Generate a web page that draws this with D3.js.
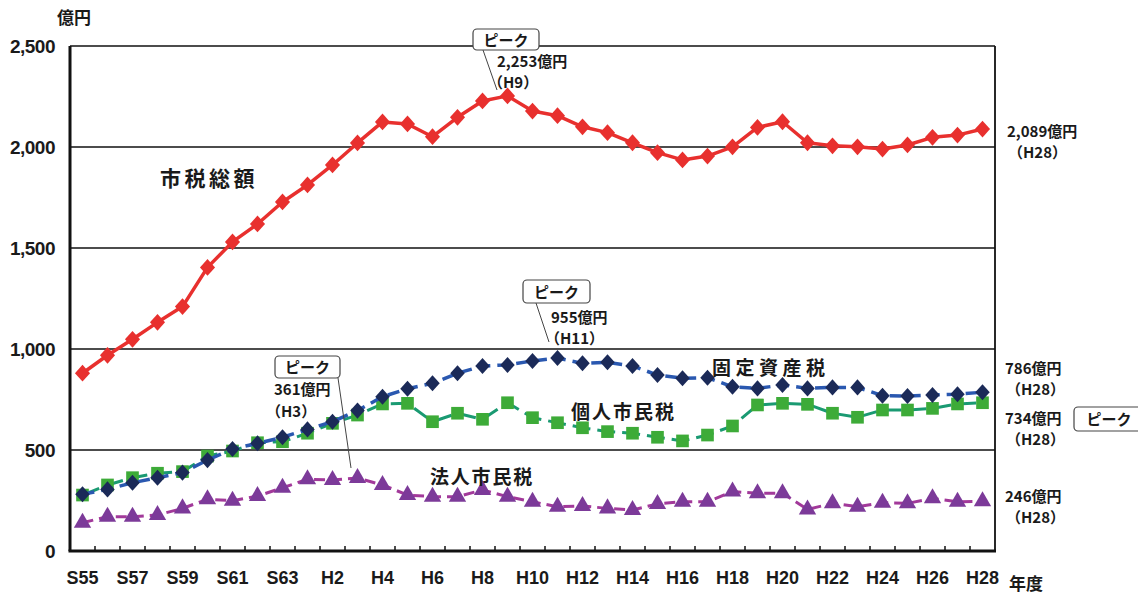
<!DOCTYPE html>
<html><head><meta charset="utf-8">
<script src="https://cdn.jsdelivr.net/npm/d3@7"></script>
<style>
body{margin:0;background:#fff;}
svg{display:block;}
</style></head>
<body><svg id="c" width="1138" height="597"></svg>
<script>
const categories = ["S55","S56","S57","S58","S59","S60","S61","S62","S63","H1","H2","H3","H4","H5","H6","H7","H8","H9","H10","H11","H12","H13","H14","H15","H16","H17","H18","H19","H20","H21","H22","H23","H24","H25","H26","H27","H28"];
const totalTax = [880,969,1048,1132,1210,1404,1530,1619,1728,1812,1911,2020,2124,2114,2051,2147,2228,2253,2178,2155,2100,2071,2021,1972,1936,1955,2001,2097,2125,2021,2006,2001,1990,2010,2048,2059,2089];
const propertyTax = [281,305,338,363,388,450,505,533,563,602,640,695,764,803,830,880,916,921,941,955,929,934,916,871,855,858,813,805,822,805,810,810,769,767,772,776,786];
const individualTax = [277,327,363,385,393,470,495,536,541,583,632,673,728,731,640,682,652,734,660,635,610,591,583,563,545,574,619,723,731,726,682,662,698,698,706,728,734];
const corporateTax = [140,170,170,178,211,256,249,272,313,355,351,361,327,277,269,269,302,269,244,219,223,211,203,233,244,244,294,286,286,206,236,219,239,236,261,244,246];
const yTicks = [0,500,1000,1500,2000,2500];

(function(){
const svg = d3.select("#c");
const L = 70, R = 995, T = 46, B = 551;
const x = d3.scaleBand().domain(categories).range([L, R]);
const y = d3.scaleLinear().domain([0, 2500]).range([B, T]);
const cx = d => x(d) + x.bandwidth() / 2;

const jp = "'Noto Sans CJK JP','Noto Sans',sans-serif";
const narrow = "'Liberation Sans Narrow','Arial Narrow','Liberation Sans',Arial,sans-serif";

// gridlines
svg.append("g").selectAll("line").data(yTicks.filter(v => v > 0)).join("line")
  .attr("x1", L).attr("x2", R).attr("y1", d => y(d)).attr("y2", d => y(d))
  .attr("stroke", "#111").attr("stroke-width", 1.5);

// y labels
svg.append("g").selectAll("text").data(yTicks).join("text")
  .attr("x", 55).attr("y", d => y(d) + 7).attr("text-anchor", "end")
  .attr("font-family", narrow).attr("font-size", 19).attr("fill", "#1a1a1a").attr("font-weight", "bold")
  .attr("letter-spacing", -0.5)
  .text(d => d3.format(",")(d));

svg.append("text").attr("x", 57).attr("y", 24).attr("font-family", jp).attr("font-weight", "bold")
  .attr("font-size", 17).attr("fill", "#1a1a1a").text("億円");
svg.append("text").attr("x", 1009).attr("y", 590).attr("font-family", jp).attr("font-weight", "bold")
  .attr("font-size", 17).attr("fill", "#1a1a1a").text("年度");

// x ticks (band boundaries)
const boundaries = categories.map(d => x(d)).concat([x(categories[categories.length - 1]) + x.bandwidth()]);
svg.append("g").selectAll("line").data(boundaries.slice(1, -1)).join("line")
  .attr("x1", d => d).attr("x2", d => d).attr("y1", B).attr("y2", B - 5)
  .attr("stroke", "#111").attr("stroke-width", 1.5);

// x labels
svg.append("g").selectAll("text").data(categories.filter((d, i) => i % 2 === 0)).join("text")
  .attr("x", d => cx(d)).attr("y", 584).attr("text-anchor", "middle")
  .attr("font-family", narrow).attr("font-weight", "bold").attr("font-size", 18).attr("fill", "#1a1a1a")
  .text(d => d);

// frame
svg.append("line").attr("x1", L).attr("x2", L).attr("y1", T).attr("y2", B).attr("stroke", "#111").attr("stroke-width", 3);
svg.append("line").attr("x1", R).attr("x2", R).attr("y1", T).attr("y2", B).attr("stroke", "#111").attr("stroke-width", 1.8);
svg.append("line").attr("x1", L - 1.5).attr("x2", R + 1).attr("y1", B).attr("y2", B).attr("stroke", "#111").attr("stroke-width", 3);

function series(data, lineColor, dash, width, shape, fill, size) {
  const pts = data.map((v, i) => [cx(categories[i]), y(v)]);
  svg.append("path").datum(pts).attr("d", d3.line())
    .attr("fill", "none").attr("stroke", lineColor).attr("stroke-width", width)
    .attr("stroke-dasharray", dash).attr("stroke-linejoin", "round");
  svg.append("g").selectAll("path").data(pts).join("path")
    .attr("transform", d => `translate(${d[0]},${d[1]})`)
    .attr("d", d3.symbol().type(shape).size(size))
    .attr("fill", fill);
}

const diamond = {draw(ctx, size){ const r = Math.sqrt(size)/2*1.25; ctx.moveTo(0,-r); ctx.lineTo(r*0.9,0); ctx.lineTo(0,r); ctx.lineTo(-r*0.9,0); ctx.closePath(); }};

series(corporateTax, "#a2399a", "11,6", 3, d3.symbolTriangle, "#7c3a99", 130);
series(individualTax, "#1a9a72", "18,7", 3, d3.symbolSquare, "#3dab38", 160);
series(propertyTax, "#2a58b0", "12,7", 3.5, diamond, "#1b2a58", 165);
series(totalTax, "#e8302e", null, 3.5, diamond, "#e8302e", 180);

// series labels
const lab = (t, xx, yy, fs, ls) => svg.append("text").attr("x", xx).attr("y", yy).attr("font-family", jp)
  .attr("font-weight", "bold").attr("font-size", fs).attr("fill", "#1a1a1a").attr("letter-spacing", ls).text(t);
lab("市税総額", 160, 186, 21, 3.5);
lab("固定資産税", 712, 375, 19, 4.5);
lab("個人市民税", 571, 419, 19, 2);
lab("法人市民税", 430, 484, 19, 1.8);

// annotations
const small = (t, xx, yy) => svg.append("text").attr("x", xx).attr("y", yy).attr("font-family", jp)
  .attr("font-weight", "bold").attr("font-size", 15).attr("fill", "#1a1a1a").text(t);
function peakBox(x0, y0, w, h) {
  svg.append("rect").attr("x", x0).attr("y", y0).attr("width", w).attr("height", h).attr("rx", 4)
    .attr("fill", "#fff").attr("stroke", "#444").attr("stroke-width", 1.2);
  svg.append("text").attr("x", x0 + w / 2).attr("y", y0 + h / 2 + 6).attr("text-anchor", "middle")
    .attr("font-family", jp).attr("font-weight", "bold").attr("font-size", 15).attr("fill", "#1a1a1a").text("ピーク");
}
function leader(x1, y1, x2, y2) {
  svg.append("line").attr("x1", x1).attr("y1", y1).attr("x2", x2).attr("y2", y2).attr("stroke", "#444").attr("stroke-width", 1);
}
leader(483, 50, 497, 90);
peakBox(473, 29, 66, 21);
small("2,253億円", 497, 67); small("（H9）", 488, 88);

leader(536, 303, 549, 342);
peakBox(523, 280, 67, 23);
small("955億円", 551, 323); small("（H11）", 545, 344);

leader(338, 378, 351, 468);
peakBox(275, 356, 65, 22);
small("361億円", 274, 395); small("（H3）", 266, 417);

peakBox(1074, 407, 70, 24);

small("2,089億円", 1007, 137); small("（H28）", 1008, 158);
small("786億円", 1005, 374); small("（H28）", 1006, 395);
small("734億円", 1005, 424); small("（H28）", 1006, 445);
small("246億円", 1005, 502); small("（H28）", 1006, 523);
})();
</script></body></html>
